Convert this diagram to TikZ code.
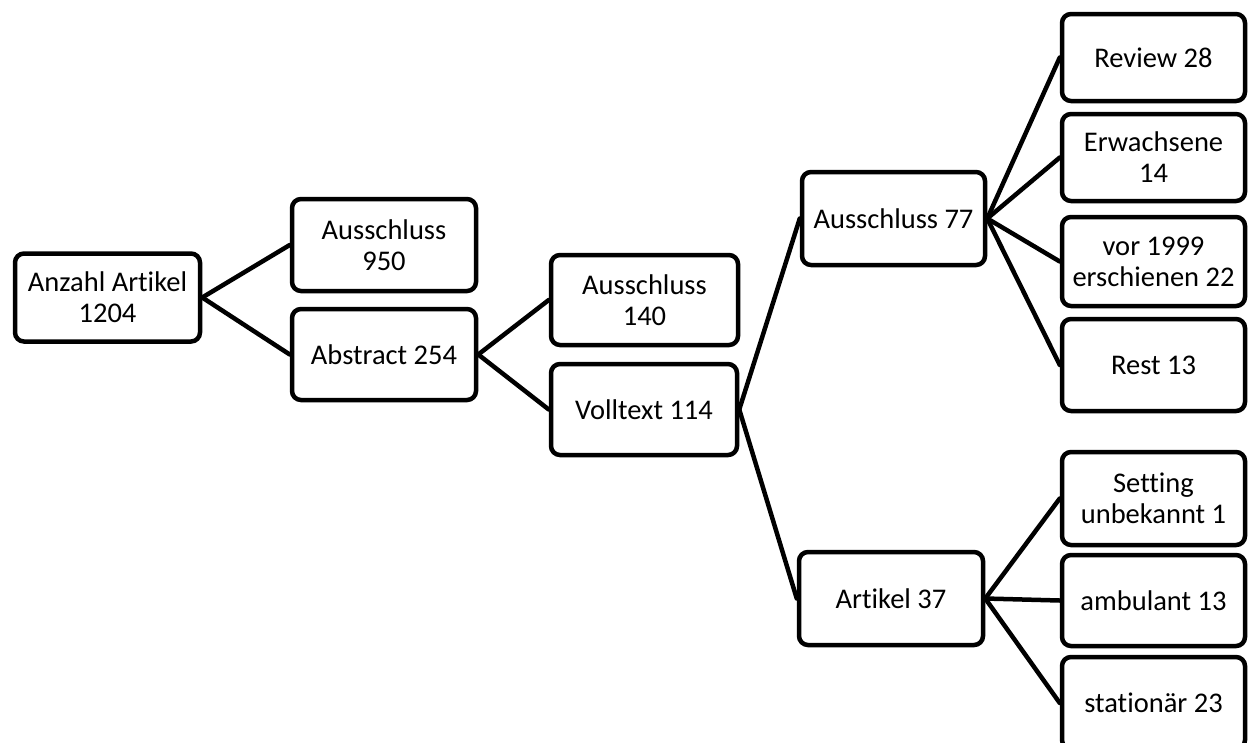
\documentclass[tikz,border=0pt]{standalone}
\usepackage{fontspec}
\setmainfont[Ligatures=NoCommon]{Carlito}
\begin{document}
\begin{tikzpicture}[x=1pt,y=-1pt,
  box/.style={draw=black, line width=4.5pt, rounded corners=9pt, align=center,
    inner sep=0pt, minimum width=#1, font=\fontsize{28.5}{31}\selectfont},
  box/.default=185pt,
  conn/.style={line width=4.5pt, line cap=round}]
\useasboundingbox (0,0) rectangle (1260,742);
\node[box=185pt, minimum height=88pt] (anz) at (107.5,297.5) {Anzahl Artikel\\1204};
\node[box=184pt, minimum height=92pt] (aus950) at (384,245) {Ausschluss\\950};
\node[box=184pt, minimum height=91pt] (abs) at (384,354.5) {Abstract 254};
\node[box=187pt, minimum height=90pt] (aus140) at (644.5,300) {Ausschluss\\140};
\node[box=186pt, minimum height=91pt] (voll) at (644,409.5) {Volltext 114};
\node[box=183pt, minimum height=93pt] (aus77) at (893.5,218.5) {Ausschluss 77};
\node[box=184pt, minimum height=93pt] (art) at (891,598.5) {Artikel 37};
\node[box=183pt, minimum height=87pt] (rev) at (1153.5,57.5) {Review 28};
\node[box=183pt, minimum height=87pt] (erw) at (1153.5,157.5) {Erwachsene\\14};
\node[box=183pt, minimum height=89pt] (vor) at (1153.5,261.5) {vor 1999\\erschienen 22};
\node[box=183pt, minimum height=92pt] (rest) at (1153.5,365) {Rest 13};
\node[box=183pt, minimum height=93pt] (set) at (1153.5,498.5) {Setting\\unbekannt 1};
\node[box=183pt, minimum height=91pt] (amb) at (1153.5,600.5) {ambulant 13};
\node[box=183pt, minimum height=92pt] (sta) at (1153.5,703) {station\"ar 23};
\draw[conn] (anz.east) -- (aus950.west);
\draw[conn] (anz.east) -- (abs.west);
\draw[conn] (abs.east) -- (aus140.west);
\draw[conn] (abs.east) -- (voll.west);
\draw[conn] (voll.east) -- (aus77.west);
\draw[conn] (voll.east) -- (art.west);
\draw[conn] (aus77.east) -- (rev.west);
\draw[conn] (aus77.east) -- (erw.west);
\draw[conn] (aus77.east) -- (vor.west);
\draw[conn] (aus77.east) -- (rest.west);
\draw[conn] (art.east) -- (set.west);
\draw[conn] (art.east) -- (amb.west);
\draw[conn] (art.east) -- (sta.west);
\end{tikzpicture}
\end{document}
